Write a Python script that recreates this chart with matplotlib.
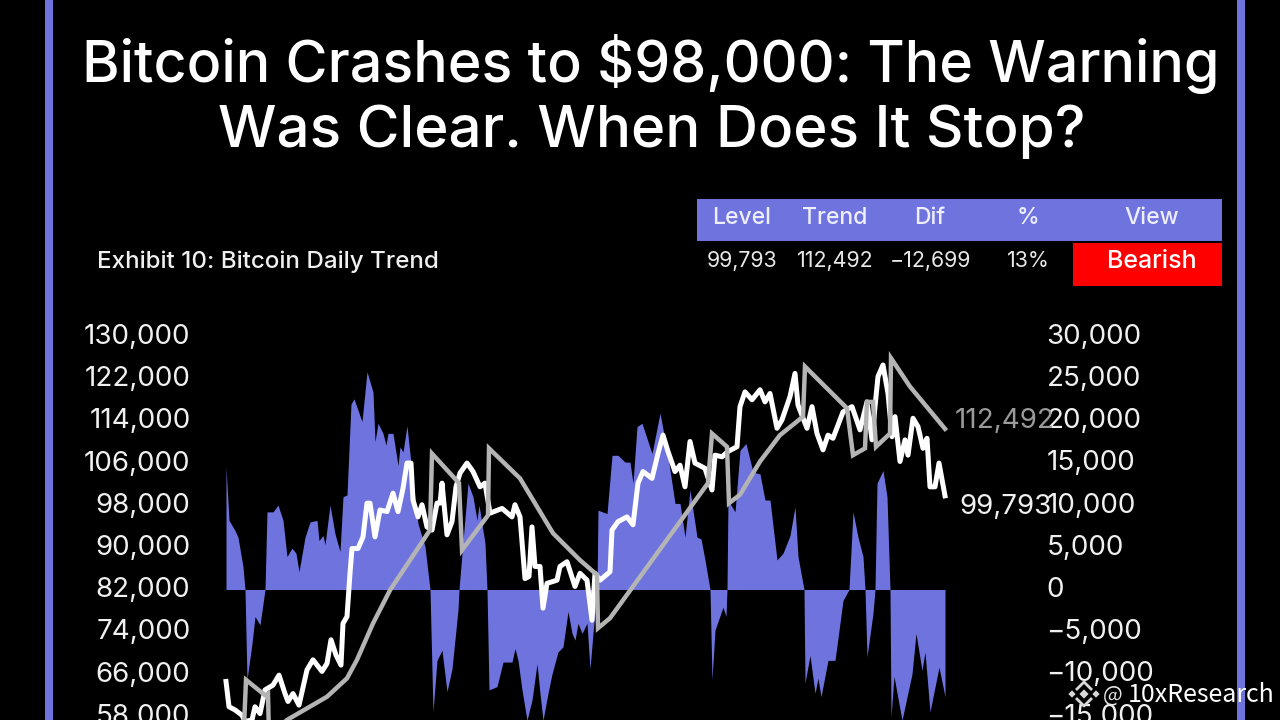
# bitcoin daily trend chart
import matplotlib
matplotlib.use("Agg")
import matplotlib.pyplot as plt
import matplotlib.transforms as mtrans

PURPLE = "#6e73de"
FONT = "Inter"

title_lines = ["Bitcoin Crashes to $98,000: The Warning", "Was Clear. When Does It Stop?"]
exhibit = "Exhibit 10: Bitcoin Daily Trend"
head_labels = ["Level", "Trend", "Dif", "%", "View"]
row_labels = ["99,793", "112,492", "-12,699", "13%"]
view_label = "Bearish"

price_ticks = [130000, 122000, 114000, 106000, 98000, 90000, 82000, 74000, 66000, 58000]
osc_ticks = [30000, 25000, 20000, 15000, 10000, 5000, 0, -5000, -10000, -15000]

price_days = [0, 3, 9, 16, 19, 26, 29, 34, 39, 47, 53, 59, 62, 67, 73, 81, 87, 96, 101, 105, 110, 115,
              117, 121, 124, 126, 132, 137, 141, 144, 149, 154, 161, 167, 172, 177, 181, 185, 187, 192,
              196, 201, 206, 211, 214, 216, 221, 226, 230, 234, 241, 247, 254, 259, 264, 276, 286, 289,
              294, 299, 303, 306, 309, 314, 317, 321, 331, 334, 341, 349, 354, 361, 366, 369, 374, 384,
              386, 392, 401, 407, 412, 417, 426, 432, 437, 442, 449, 454, 459, 464, 469, 479, 486, 489,
              496, 502, 511, 514, 519, 526, 534, 539, 544, 551, 556, 564, 569, 572, 581, 586, 591, 597,
              602, 607, 617, 626, 634, 641, 646, 649, 652, 657, 662, 666, 669, 674, 679, 682, 687, 692,
              697, 701, 704, 709, 713, 719]
price = [64600, 59800, 59200, 58200, 57000, 57300, 59800, 58500, 63000, 63900, 65800, 62300, 60800, 62300,
         60100, 66800, 68700, 66500, 68000, 72500, 69600, 67700, 75600, 76900, 85100, 89800, 89800, 92000,
         98400, 98400, 92000, 97100, 96800, 100300, 96800, 101200, 106000, 106000, 99000, 95800, 98100,
         93900, 93300, 98400, 98400, 102200, 92400, 94900, 101500, 104100, 106000, 104400, 101500, 102200,
         96500, 97400, 95800, 98100, 95800, 84100, 84500, 93900, 86400, 86400, 78500, 83200, 83800, 86400,
         87300, 82600, 85100, 83800, 76200, 85100, 83800, 85400, 93300, 94900, 95800, 94300, 102200, 104400,
         103100, 107800, 111300, 108200, 104400, 105600, 101500, 110100, 106000, 105000, 100900, 107500,
         107200, 108200, 109100, 116700, 119500, 118000, 119900, 117600, 119200, 112600, 114200, 118600,
         123000, 117000, 112600, 116700, 111600, 108500, 111300, 110700, 115700, 116700, 112300, 117600,
         110400, 116700, 122400, 124600, 119200, 111000, 114800, 106300, 110400, 107500, 114500, 112900,
         108800, 110700, 101500, 101500, 106000, 99793]

trend_days = [0, 10, 18, 20, 39, 42, 43, 61, 101, 121, 131, 147, 164, 184, 204, 206, 233, 236, 262, 263,
              294, 327, 354, 371, 372, 384, 482, 486, 501, 503, 514, 534, 554, 577, 579, 621, 627, 639,
              641, 647, 650, 664, 665, 684, 719]
trend = [50000, 53000, 56000, 64900, 62000, 62300, 54000, 57300, 61700, 65200, 68700, 75600, 81900, 87600,
         93300, 107800, 102200, 89500, 96100, 108800, 103100, 92700, 87600, 84800, 74700, 76600, 102200,
         111600, 109100, 98400, 100000, 106300, 111300, 114800, 124300, 116400, 107500, 108800, 117600,
         117600, 109100, 111600, 125900, 120500, 112492]

osc_days = [0, 3, 9, 12, 17, 19, 21, 26, 29, 34, 39, 41, 47, 52, 57, 61, 66, 70, 73, 79, 84, 91, 93, 97, 99,
            104, 109, 114, 117, 121, 125, 128, 136, 141, 147, 149, 152, 157, 160, 162, 167, 172, 174, 177,
            181, 185, 192, 199, 204, 207, 211, 216, 221, 226, 232, 233, 236, 242, 247, 251, 253, 259, 261,
            263, 271, 277, 286, 289, 292, 296, 301, 306, 311, 314, 317, 322, 326, 332, 337, 342, 346, 349,
            352, 356, 361, 364, 367, 371,
            372, 381, 386, 392, 399, 404, 407, 411, 416, 426, 434, 441, 449, 454, 459, 464, 471, 475, 479,
            484, 486, 489, 497, 500, 501, 502, 509, 514, 520, 527, 534, 539, 544, 551, 557, 564, 569, 572,
            578, 579, 584, 589, 592, 595, 602, 609, 617, 623, 627, 632, 637, 639, 641, 647, 649, 651, 657,
            661, 664, 665, 668, 676, 686, 690, 696, 699, 704, 713, 719]
osc = [14500, 8200, 7000, 6200, 2700, 0, -10700, -6400, -3200, -4200, 0, 9200, 9200, 10000, 8200, 3900, 4900,
       4300, 2100, 6200, 8000, 8200, 5800, 6400, 5300, 10000, 6600, 4500, 11000, 11200, 22000, 22600, 19900,
       25800, 23400, 17500, 19700, 18500, 17100, 18500, 18500, 14700, 16900, 16300, 19400, 14900, 7800, 5100,
       0, -14500, -8400, -7200, -12100, -9400, -2400, 0, 4300, 12600, 11000, 8200, 10000, 5500, 0,
       -11900, -11500, -8600, -8600, -7000, -8400, -11900, -15500, -13100, -8800, -12300, -15500, -12300,
       -10000, -7400, -6800, -2600, -5200, -6000, -4000, -5200, -4000, -9400, -5200, 0,
       9400, 9000, 15900, 15900, 15100, 15100, 12600, 19300, 19700, 16100, 20900,
       16500, 10200, 10200, 6200, 11800, 6200, 6000, 3500, 0, -10700, -4800, -2100, -3200, 0, 10600, 9200,
       16500, 17300, 13900, 13700, 10600, 10600, 3500, 4300, 6400, 9800, 3900, 0, -11100, -7800, -12300,
       -10500, -12700, -8400, -8400, -1300, 0, 9200, 6200, 3900, 0, -8000, -2800, 0, 12600, 14100, 11000, 0,
       -15100, -10300, -15500, -10000, -5200, -9600, -7400, -14500, -9200, -12699]

fig = plt.figure(figsize=(12.8, 7.2), dpi=100, facecolor="black")

# page furniture in pixel units
page = fig.add_axes([0, 0, 1, 1], zorder=0)
page.set_xlim(0, 1280)
page.set_ylim(720, 0)
page.axis("off")
page.fill_between([45, 53], 0, 720, color=PURPLE, lw=0)
page.fill_between([1237, 1245], 0, 720, color=PURPLE, lw=0)
page.fill_between([697, 1222], 199, 241, color=PURPLE, lw=0)
page.fill_between([1073, 1222], 243, 286, color="#ff0000", lw=0)

page.text(651, 64, title_lines[0], color="white", fontsize=41.3, family=FONT, weight="medium", ha="center", va="center")
page.text(652, 132, title_lines[1], color="white", fontsize=42, family=FONT, weight="medium", ha="center", va="center")
page.text(97, 262, exhibit, color="#f0f0f0", fontsize=17.4, family=FONT, weight="medium", va="center")

for lab, xc in zip(head_labels, [742, 835, 930, 1028, 1152]):
    page.text(xc, 218, lab, color="#eeeeff", fontsize=16.5, family=FONT, weight="medium", ha="center", va="center")
for lab, xc in zip(row_labels, [742, 835, 930, 1028]):
    page.text(xc, 261, lab.replace("-", "\u2212"), color="#e8e8e8", fontsize=15.4, family=FONT, ha="center", va="center")
page.text(1152, 262, view_label, color="white", fontsize=18, family=FONT, weight="medium", ha="center", va="center")

# chart, day 0 at 226px and last day at 945px
ax = fig.add_axes([196 / 1280, 0, (1041 - 196) / 1280, (720 - 330) / 720], zorder=1)
ax.patch.set_visible(False)
ax.set_xlim(-30, 815)
ax.set_ylim(-15464, 30751)
ax.fill_between(osc_days, osc, 0, color=PURPLE, lw=0)
ax.set_yticks(osc_ticks, [f"{v:,}".replace("-", "\u2212") for v in osc_ticks])

ax_price = ax.twinx()
ax_price.set_zorder(2)
ax_price.patch.set_visible(False)
ax_price.set_ylim(57290, 131232)
ax_price.plot(price_days, price, color="white", lw=3.6, solid_joinstyle="round")
ax_price.plot(trend_days, trend, color="#b4b4b4", lw=3.2, solid_joinstyle="miter")
ax_price.set_yticks(price_ticks, [f"{v:,}" for v in price_ticks])

# twinx swaps the sides, put them back after it
ax.yaxis.tick_right()
ax_price.yaxis.tick_left()

ax_price.annotate(f"{trend[-1]:,}", (trend_days[-1], trend[-1]), xytext=(10, 8), textcoords="offset pixels",
                  color="#9a9a9a", fontsize=20, family=FONT, va="center")
ax_price.annotate(f"{price[-1]:,}", (price_days[-1], price[-1]), xytext=(14, -11), textcoords="offset pixels",
                  color="#f0f0f0", fontsize=20, family=FONT, va="center")

shift = mtrans.ScaledTranslation(0, 2.5 / 100, fig.dpi_scale_trans)
for a in [ax, ax_price]:
    a.set_xticks([])
    a.tick_params(axis="y", length=0, pad=4, labelsize=20, labelcolor="#f0f0f0")
    for s in a.spines.values():
        s.set_visible(False)
    for lab in a.get_yticklabels():
        lab.set_family(FONT)
        lab.set_transform(lab.get_transform() + shift)

# watermark on top of everything
mark = fig.add_axes([0, 0, 1, 1], zorder=3)
mark.set_xlim(0, 1280)
mark.set_ylim(720, 0)
mark.axis("off")
mark.scatter([1072, 1084, 1096], [694, 694, 694], marker="D", s=[14, 22, 14], color="#d8d8d8", lw=0)
mark.plot([1077, 1084, 1091], [689, 682, 689], color="#d8d8d8", lw=2)
mark.plot([1077, 1084, 1091], [699, 706, 699], color="#d8d8d8", lw=2)
mark.text(1103, 695, "@", color="#e8e8e8", fontsize=15, family="Noto Sans CJK SC", va="center")
mark.text(1128, 695, "10xResearch", color="white", fontsize=18, family="Noto Sans CJK SC", va="center")

fig.savefig("out.png", dpi=100, facecolor="black")
